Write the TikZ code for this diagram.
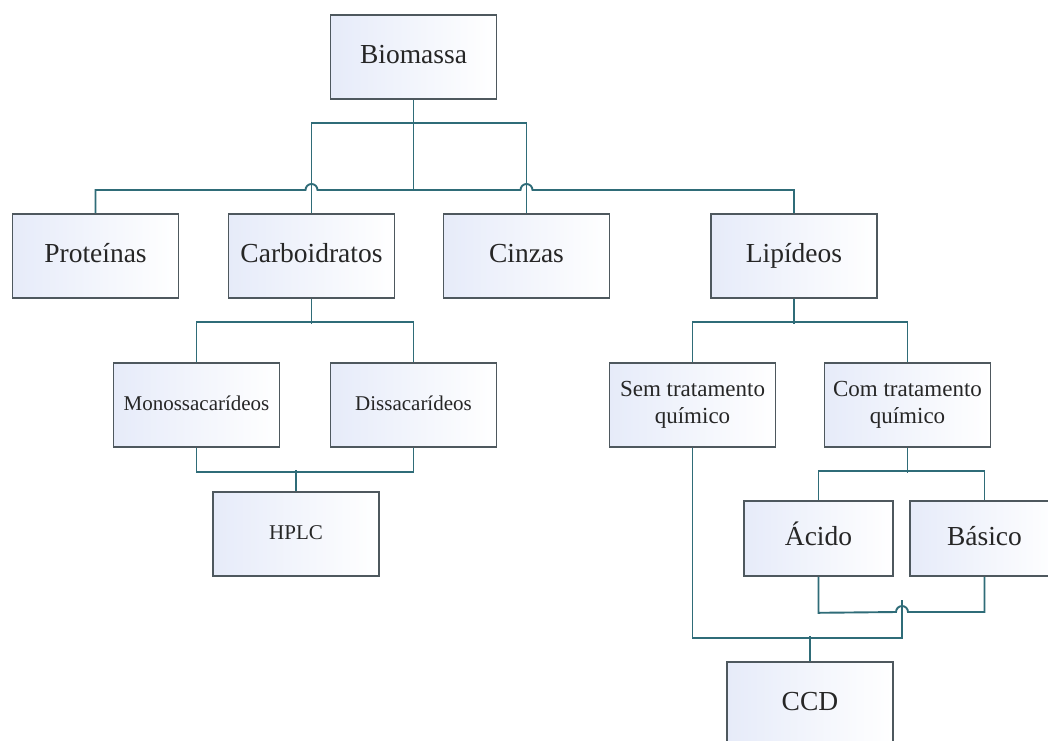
\documentclass[tikz,border=0pt]{standalone}
\usepackage{fontspec}
\setmainfont{Liberation Serif}
\usetikzlibrary{calc}
\definecolor{linkteal}{RGB}{47,108,120}
\definecolor{boxgray}{RGB}{78,88,94}
\definecolor{boxtint}{RGB}{230,235,249}
\tikzset{
  box/.style={draw=boxgray, line width=1.6pt, left color=boxtint, right color=white, inner sep=2pt, align=center, text=black!85},
  bigbox/.style={box, minimum width=166pt, minimum height=84pt, text height=19pt, text depth=6pt, font=\fontsize{27.5}{33}\selectfont},
  smallbox/.style={box, minimum width=166pt, minimum height=84pt, text height=15pt, text depth=4pt, font=\fontsize{21}{27}\selectfont},
  midbox/.style={box, minimum width=166pt, minimum height=84pt, font=\fontsize{23}{27}\selectfont},
  subbox/.style={box, minimum width=149pt, minimum height=75pt, text height=19pt, text depth=6pt, font=\fontsize{27.5}{33}\selectfont},
  link/.style={draw=linkteal, line width=1.9pt},
}
\begin{document}
\begin{tikzpicture}[x=1pt,y=1pt]
\def\hr{6};
\fill[white] (0,0) rectangle (1048,-740);
\useasboundingbox (0,0) rectangle (1048,-740);
\clip (0,0) rectangle (1048,-740);
%boxes
\node[bigbox] (bio) at (413.5,-57) {Biomassa};
\foreach\n/\x/\t in {prot/95.5/Proteínas,carb/311.5/Carboidratos,cinz/526.5/Cinzas,lip/794/Lipídeos} {
  \node[bigbox] (\n) at (\x,-256) {\t};
}
\node[smallbox] (mono) at (196.5,-405) {Monossacarídeos};
\node[smallbox] (diss) at (413.5,-405) {Dissacarídeos};
\node[smallbox] (hplc) at (296,-534) {HPLC};
\node[midbox] (sem) at (692.5,-405) {Sem tratamento\\químico};
\node[midbox] (com) at (907.5,-405) {Com tratamento\\químico};
\node[subbox] (acid) at (818.5,-538.5) {Ácido};
\node[subbox] (basi) at (984.5,-538.5) {Básico};
\node[bigbox] (ccd) at (810,-704) {CCD};
%buses
\coordinate (ht) at (0,-123);
\coordinate (hb) at (0,-190);
\coordinate (hop) at (902,-612);
%top level
\draw[link] (bio.south) -- (bio.south |- hb);
\draw[link] (carb.north) -- (carb.north |- ht) -- (cinz.north |- ht) -- (cinz.north);
\draw[link] (prot.north) -- (prot.north |- hb)
  -- ($(carb.north |- hb)+(-\hr,0)$) arc[start angle=180,end angle=0,radius=\hr]
  -- ($(cinz.north |- hb)+(-\hr,0)$) arc[start angle=180,end angle=0,radius=\hr]
  -- (lip.north |- hb) -- (lip.north);
%carboidratos
\draw[link] (carb.south) -- ++(0,-25);
\draw[link] (mono.north) -- ++(0,40) -| (diss.north);
\draw[link] (mono.south) -- ++(0,-24) -| (diss.south);
\draw[link] (hplc.north) -- ++(0,21);
%lipideos
\draw[link] (lip.south) -- ++(0,-25);
\draw[link] (sem.north) -- ++(0,40) -| (com.north);
\draw[link] (com.south) -- ++(0,-25);
\draw[link] (acid.north) -- ++(0,29) -| (basi.north);
\draw[link] (acid.south) -- ++(0,-36) -- ($(hop)+(-\hr,0)$) arc[start angle=180,end angle=0,radius=\hr] -| (basi.south);
\draw[link] (sem.south) -- ++(0,-190) -| ($(hop)+(0,12)$);
\draw[link] (ccd.north) -- ++(0,25);
\end{tikzpicture}
\end{document}
